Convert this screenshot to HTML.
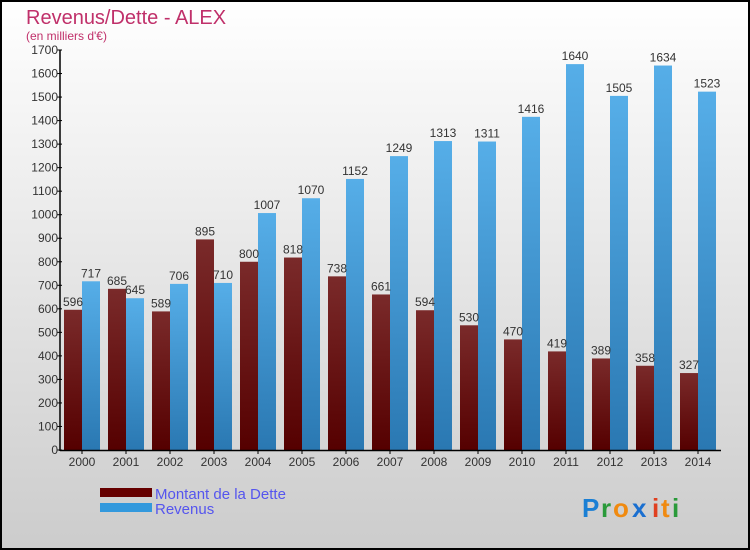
<!DOCTYPE html>
<html><head><meta charset="utf-8"><style>
body{margin:0}
svg{display:block;font-family:"Liberation Sans",sans-serif}
</style></head><body>
<svg width="750" height="550">
<defs>
<linearGradient id="bg" x1="0" y1="0" x2="0" y2="1"><stop offset="0" stop-color="#ffffff"/><stop offset="1" stop-color="#cccccc"/></linearGradient>
<linearGradient id="gd" x1="0" y1="0" x2="0" y2="1"><stop offset="0" stop-color="#7a2a2a"/><stop offset="1" stop-color="#550000"/></linearGradient>
<linearGradient id="gr" x1="0" y1="0" x2="0" y2="1"><stop offset="0" stop-color="#56aee8"/><stop offset="1" stop-color="#2a78b2"/></linearGradient>
</defs>
<rect x="1" y="1" width="748" height="548" fill="url(#bg)" stroke="#000" stroke-width="2"/>
<text x="26" y="24" font-size="20" fill="#c0306a">Revenus/Dette - ALEX</text>
<text x="26" y="40" font-size="12" fill="#c0306a">(en milliers d'€)</text>
<g id="plot"></g>
<rect x="100" y="488" width="52" height="9" fill="#660000"/>
<rect x="100" y="503" width="52" height="9" fill="#3399dd"/>
<text x="155" y="499" font-size="15" fill="#5555ee">Montant de la Dette</text>
<text x="155" y="514" font-size="15" fill="#5555ee">Revenus</text>
<g font-size="26" font-weight="bold">
<text x="582" y="517" fill="#1a7fd4">P</text><text x="601" y="517" fill="#2a9a3a">r</text><text x="613" y="517" fill="#f08a10">o</text><text x="632" y="517" fill="#1a6fd0">x</text><text x="652" y="517" fill="#e04020">i</text><text x="661" y="517" fill="#f08a10">t</text><text x="672" y="517" fill="#2a9a3a">i</text>
</g>
</svg>
<script>
const years=["2000","2001","2002","2003","2004","2005","2006","2007","2008","2009","2010","2011","2012","2013","2014"];
const dette=[596,685,589,895,800,818,738,661,594,530,470,419,389,358,327];
const revenus=[717,645,706,710,1007,1070,1152,1249,1313,1311,1416,1640,1505,1634,1523];
const yTicks=[0,100,200,300,400,500,600,700,800,900,1000,1100,1200,1300,1400,1500,1600,1700];
const NS="http://www.w3.org/2000/svg";
const g=document.getElementById('plot');
const x0=60,slot=44,y0=450,ymax=1700,ph=400;
const yS=v=>y0-v/ymax*ph;
function mk(t,a,txt){const e=document.createElementNS(NS,t);for(const k in a)e.setAttribute(k,a[k]);if(txt!==undefined)e.textContent=txt;g.appendChild(e);return e;}
years.forEach((yr,i)=>{
 const sx=x0+i*slot;
 let r=mk('rect',{x:sx+4,y:yS(dette[i]),width:18,height:y0-yS(dette[i]),fill:'url(#gd)'});
 
 
 r=mk('rect',{x:sx+22,y:yS(revenus[i]),width:18,height:y0-yS(revenus[i]),fill:'url(#gr)'});
 
 
 let t=mk('text',{x:sx+13,y:yS(dette[i])-4,'font-size':12,fill:'#333','text-anchor':'middle'},String(dette[i]));
 
 
 t=mk('text',{x:sx+31,y:yS(revenus[i])-4,'font-size':12,fill:'#333','text-anchor':'middle'},String(revenus[i]));
 
 
 t=mk('text',{x:sx+22,y:466,'font-size':12,fill:'#333','text-anchor':'middle'},yr);
 
 
 mk('line',{x1:sx+22,x2:sx+22,y1:450,y2:454,stroke:'#000'});
});
yTicks.forEach(v=>{
 const y=yS(v);
 mk('line',{x1:57,x2:62,y1:y,y2:y,stroke:'#000'});
 const t=mk('text',{x:58,y:y+4,'font-size':12,fill:'#333','text-anchor':'end'},String(v));
 
 
});
let ax=mk('line',{x1:60,x2:60,y1:50,y2:451,stroke:'#000','stroke-width':1.5});


ax=mk('line',{x1:60,x2:721,y1:450.5,y2:450.5,stroke:'#000','stroke-width':1.5});


</script>
</body></html>
